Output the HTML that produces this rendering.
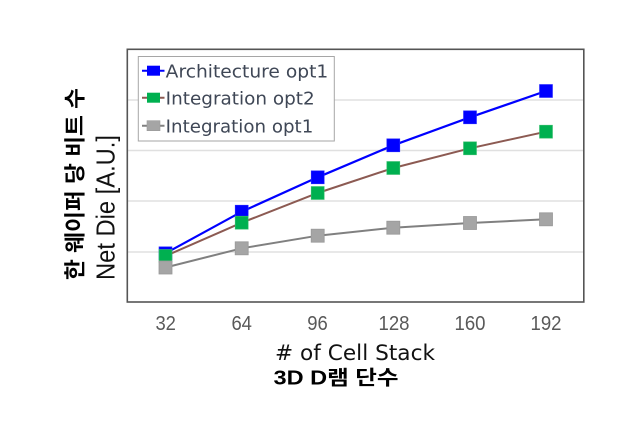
<!DOCTYPE html>
<html>
<head>
<meta charset="utf-8">
<style>
html,body{margin:0;padding:0;background:#fff;}
svg{display:block;}
</style>
</head>
<body>
<svg width="640" height="421" viewBox="0 0 640 421" xmlns="http://www.w3.org/2000/svg">
  <rect x="0" y="0" width="640" height="421" fill="#fff"/>
  <!-- gridlines -->
  <g stroke="#e0e0e0" stroke-width="1.5">
    <line x1="128" y1="100" x2="583" y2="100"/>
    <line x1="128" y1="150.5" x2="583" y2="150.5"/>
    <line x1="128" y1="201" x2="583" y2="201"/>
    <line x1="128" y1="252" x2="583" y2="252"/>
  </g>
  <!-- frame -->
  <rect x="127.3" y="49.3" width="456.5" height="252.7" fill="none" stroke="#555" stroke-width="1.6"/>

  <!-- series: blue -->
  <polyline fill="none" stroke="#0000ff" stroke-width="2.2" points="165.5,253.3 241.7,211.7 317.7,177.3 393.3,145.3 470,117.3 546,91"/>
  <g fill="#0000ff" stroke="#2a2aff" stroke-width="0.6">
    <rect x="159" y="246.8" width="13" height="13"/>
    <rect x="235.2" y="205.2" width="13" height="13"/>
    <rect x="311.2" y="170.8" width="13" height="13"/>
    <rect x="386.8" y="138.8" width="13" height="13"/>
    <rect x="463.5" y="110.8" width="13" height="13"/>
    <rect x="539.5" y="84.5" width="13" height="13"/>
  </g>
  <!-- series: green (brown line) -->
  <polyline fill="none" stroke="#8c5a52" stroke-width="2" points="165.5,256 241.7,222.7 317.7,193 393.3,168 470,148.3 546,131.7"/>
  <g fill="#00b050" stroke="#3cc070" stroke-width="0.6">
    <rect x="159" y="249.5" width="13" height="13"/>
    <rect x="235.2" y="216.2" width="13" height="13"/>
    <rect x="311.2" y="186.5" width="13" height="13"/>
    <rect x="386.8" y="161.5" width="13" height="13"/>
    <rect x="463.5" y="141.8" width="13" height="13"/>
    <rect x="539.5" y="125.2" width="13" height="13"/>
  </g>
  <!-- series: gray -->
  <polyline fill="none" stroke="#808080" stroke-width="2" points="165.5,267.5 241.7,248.3 317.7,235.7 393.3,227.7 470,223 546,219.3"/>
  <g fill="#a5a5a5" stroke="#999" stroke-width="0.8">
    <rect x="159" y="261" width="13" height="13"/>
    <rect x="235.2" y="241.8" width="13" height="13"/>
    <rect x="311.2" y="229.2" width="13" height="13"/>
    <rect x="386.8" y="221.2" width="13" height="13"/>
    <rect x="463.5" y="216.5" width="13" height="13"/>
    <rect x="539.5" y="212.8" width="13" height="13"/>
  </g>

  <!-- legend -->
  <rect x="138.3" y="56.5" width="196" height="84.5" fill="#fff" stroke="#a6a6a6" stroke-width="1"/>
  <line x1="142" y1="70.7" x2="164.5" y2="70.7" stroke="#0000ff" stroke-width="2"/>
  <rect x="147" y="65.7" width="13" height="10" fill="#0000ff"/>
  <line x1="142" y1="97.7" x2="164.5" y2="97.7" stroke="#8c5a52" stroke-width="2"/>
  <rect x="147" y="92.7" width="13" height="10" fill="#00b050"/>
  <line x1="142" y1="125.7" x2="164.5" y2="125.7" stroke="#808080" stroke-width="2"/>
  <rect x="147" y="120.7" width="13" height="10" fill="#a5a5a5" stroke="#999" stroke-width="0.6"/>
  <g font-family="'DejaVu Sans', sans-serif" font-size="18" fill="#3f4756">
    <text x="165.7" y="77.3" textLength="162.6" lengthAdjust="spacingAndGlyphs">Architecture opt1</text>
    <text x="165.7" y="104.3" textLength="149" lengthAdjust="spacingAndGlyphs">Integration opt2</text>
    <text x="165.7" y="132.3" textLength="147.6" lengthAdjust="spacingAndGlyphs">Integration opt1</text>
  </g>

  <!-- x tick labels -->
  <g font-family="'Liberation Sans', sans-serif" font-size="20" fill="#595959" text-anchor="middle">
    <text x="165.7" y="330" textLength="20.5" lengthAdjust="spacingAndGlyphs">32</text>
    <text x="241.7" y="330" textLength="20.5" lengthAdjust="spacingAndGlyphs">64</text>
    <text x="317.5" y="330" textLength="20.5" lengthAdjust="spacingAndGlyphs">96</text>
    <text x="394" y="330" textLength="31" lengthAdjust="spacingAndGlyphs">128</text>
    <text x="470" y="330" textLength="31" lengthAdjust="spacingAndGlyphs">160</text>
    <text x="546" y="330" textLength="31" lengthAdjust="spacingAndGlyphs">192</text>
  </g>

  <!-- x axis titles -->
  <text x="275" y="360" font-family="'DejaVu Sans', sans-serif" font-size="21.5" fill="#111" textLength="160" lengthAdjust="spacingAndGlyphs"># of Cell Stack</text>
  <text x="273.5" y="384.3" font-family="'Liberation Sans', 'Noto Sans CJK KR', sans-serif" font-size="20" font-weight="bold" fill="#000" textLength="125" lengthAdjust="spacingAndGlyphs">3D D램 단수</text>

  <!-- y axis titles -->
  <text transform="translate(82.5,184) rotate(-90)" text-anchor="middle" font-family="'Liberation Sans', 'Noto Sans CJK KR', sans-serif" font-size="21.5" font-weight="bold" fill="#000" textLength="192" lengthAdjust="spacingAndGlyphs">한 웨이퍼 당 비트 수</text>
  <text transform="translate(114.3,207.5) rotate(-90)" text-anchor="middle" font-family="'Liberation Sans', sans-serif" font-size="25.5" fill="#111" textLength="145" lengthAdjust="spacingAndGlyphs">Net Die [A.U.]</text>
</svg>
</body>
</html>
